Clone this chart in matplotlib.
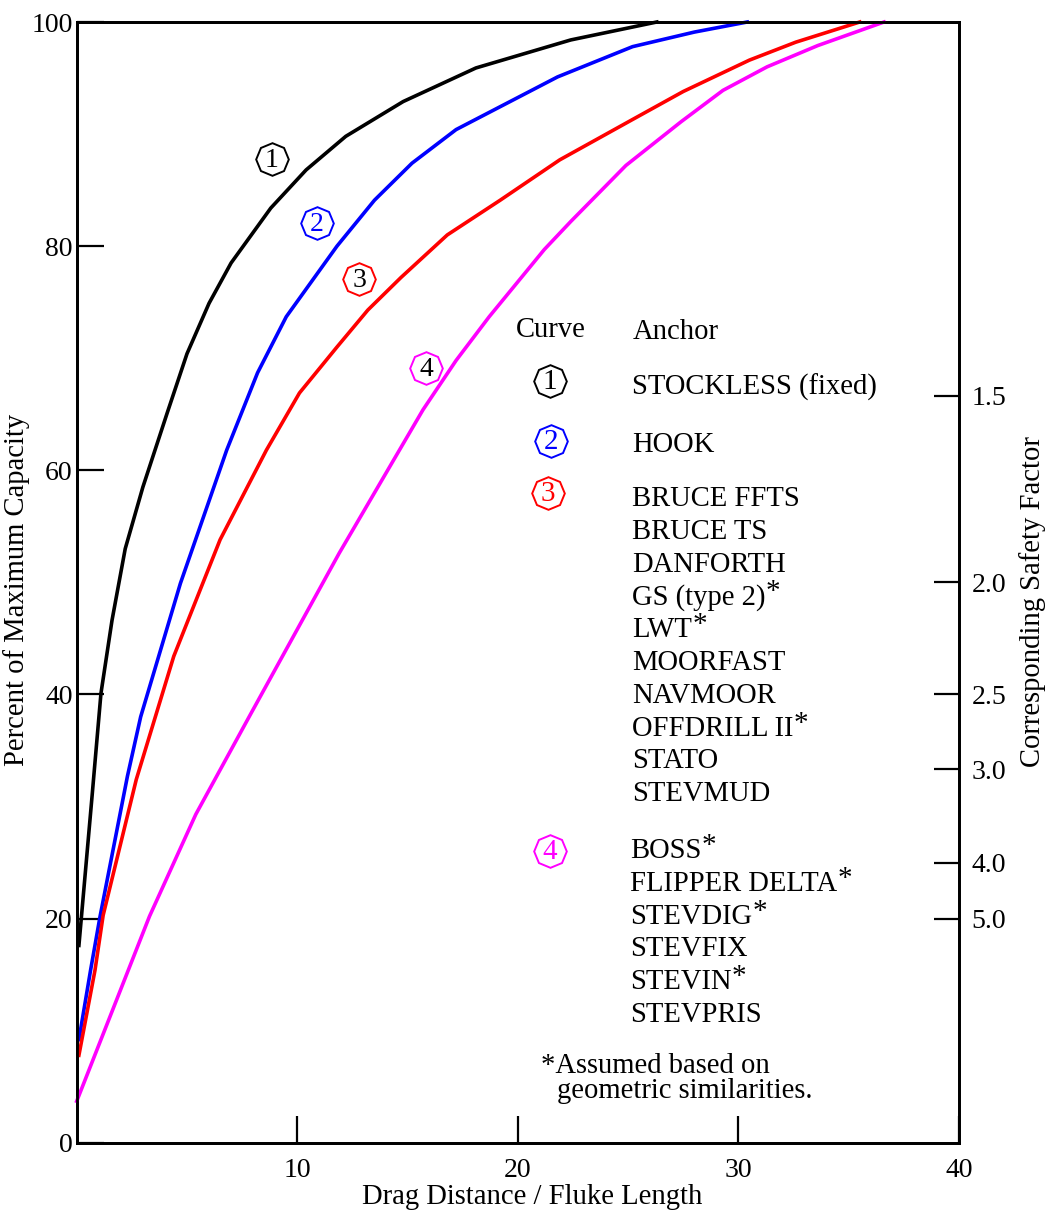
import matplotlib
matplotlib.use("Agg")
import matplotlib.pyplot as plt

plt.rcParams['font.family'] = ['Liberation Serif', 'DejaVu Serif']

# ---- data ----
x1 = [0.1, 0.7, 1.1, 1.6, 2.2, 3.0, 4.1, 5.0, 6.0, 7.0, 8.8, 10.4, 12.2, 14.8, 18.1, 22.4, 26.3]
y1 = [17.6, 31.0, 40.1, 46.6, 53.0, 58.5, 65.1, 70.4, 74.9, 78.5, 83.4, 86.8, 89.8, 92.9, 95.9, 98.4, 100]

x2 = [0.1, 0.63, 1.06, 2.3, 2.9, 4.7, 6.8, 8.2, 9.5, 11.8, 13.5, 15.2, 17.2, 21.8, 25.2, 28.0, 30.4]
y2 = [9.2, 15.4, 20.2, 32.7, 38.0, 49.9, 61.8, 68.7, 73.7, 80.0, 84.1, 87.4, 90.4, 95.1, 97.8, 99.1, 100]

x3 = [0.1, 0.83, 1.2, 2.7, 4.4, 6.5, 8.6, 10.1, 11.8, 13.2, 14.7, 16.8, 19.2, 21.9, 25.2, 27.5, 30.5, 32.6, 35.5]
y3 = [7.8, 15.4, 20.3, 32.4, 43.4, 53.8, 61.8, 66.9, 71.0, 74.3, 77.2, 81.0, 84.1, 87.7, 91.3, 93.8, 96.6, 98.2, 100]

x4 = [0.0, 3.3, 5.4, 7.9, 11.9, 15.7, 17.2, 18.7, 21.2, 22.4, 24.9, 27.4, 29.3, 31.3, 33.6, 36.6]
y4 = [3.7, 20.2, 29.3, 38.3, 52.6, 65.4, 69.8, 73.7, 79.7, 82.2, 87.2, 91.1, 93.9, 96.0, 97.9, 100]

curve_ids = ['1', '2', '3', '4']
curve_colors = ['black', '#0000ff', '#ff0000', '#ff00ff']

x_ticks = [10, 20, 30, 40]
y_ticks = [0, 20, 40, 60, 80, 100]
safety_factors = [1.5, 2.0, 2.5, 3.0, 4.0, 5.0]

# (name, assumed-by-similarity flag)
anchors_1 = [('STOCKLESS (fixed)', False)]
anchors_2 = [('HOOK', False)]
anchors_3 = [('BRUCE FFTS', False), ('BRUCE TS', False), ('DANFORTH', False), ('GS (type 2)', True),
             ('LWT', True), ('MOORFAST', False), ('NAVMOOR', False), ('OFFDRILL II', True),
             ('STATO', False), ('STEVMUD', False)]
anchors_4 = [('BOSS', True), ('FLIPPER DELTA', True), ('STEVDIG', True), ('STEVFIX', False),
             ('STEVIN', True), ('STEVPRIS', False)]

W, H = 1046, 1220
fig = plt.figure(figsize=(W / 100, H / 100), dpi=100)
L, R, T, B = 76.7, 959.0, 22.0, 1142.7
ax = fig.add_axes([L / W, 1 - B / H, (R - L) / W, (B - T) / H])
renderer = fig.canvas.get_renderer()

FS = 20.6
TFS = 20

def fx(px):
    return px / W

def fy(py):
    return 1 - py / H

for xs, ys, c in zip([x1, x2, x3, x4], [y1, y2, y3, y4], curve_colors):
    ax.plot(xs, ys, color=c, lw=2.6, solid_joinstyle='round', clip_on=False, zorder=3)

ax.set_xlim(0, 40)
ax.set_ylim(0, 100)
ax.set_xticks(x_ticks)
ax.set_xticklabels([str(v) for v in x_ticks])
ax.set_yticks(y_ticks)
ax.set_yticklabels([str(v) for v in y_ticks])
ax.tick_params(axis='both', direction='in', length=19.5, width=1.6, labelsize=TFS, colors='black')
ax.tick_params(axis='x', pad=11)
ax.tick_params(axis='y', pad=3)
for s in ax.spines.values():
    s.set_linewidth(2.0)

ax2 = ax.twinx()
ax2.set_ylim(0, 100)
ax2.set_yticks([100.0 / sf for sf in safety_factors])
ax2.set_yticklabels([f"{sf:.1f}" for sf in safety_factors])
ax2.tick_params(axis='y', direction='in', length=18, width=1.6, labelsize=TFS, pad=9)
for s in ax2.spines.values():
    s.set_linewidth(2.0)

# axis labels
fig.text(fx(532), fy(1197), 'Drag Distance / Fluke Length', fontsize=FS, ha='center', va='center')
fig.text(fx(17), fy(590), 'Percent of Maximum Capacity', fontsize=FS, ha='center', va='center', rotation=90)
fig.text(fx(1033), fy(602), 'Corresponding Safety Factor', fontsize=FS, ha='center', va='center', rotation=90)

# octagon markers with numbers
def badge(px, py, num, col, numcol, fs):
    fig.lines.append(plt.Line2D([fx(px)], [fy(py)], transform=fig.transFigure, marker=(8, 0, 0),
                                markersize=23.5, markerfacecolor='white', markeredgecolor=col,
                                markeredgewidth=1.4, linestyle='none', zorder=5))
    fig.text(fx(px), fy(py) - 0.001, num, fontsize=fs, color=numcol, ha='center', va='center', zorder=6)

on_curve = [(272, 159), (317, 223), (359, 279), (426, 368)]
on_curve_numcol = ['black', '#0000ff', 'black', 'black']
for (px, py), n, c, nc in zip(on_curve, curve_ids, curve_colors, on_curve_numcol):
    badge(px, py, n, c, nc, 20)

legend_pos = [(550, 381), (551, 441), (548, 493), (550, 851)]
for (px, py), n, c in zip(legend_pos, curve_ids, curve_colors):
    badge(px, py, n, c, c, 21)

def name_text(px, py, name, star):
    t = fig.text(fx(px), fy(py), name, fontsize=FS, ha='left', va='baseline')
    if star:
        bb = t.get_window_extent(renderer)
        fig.text((bb.x1 + 0.5) / W, fy(py - 5), '*', fontsize=21, ha='left', va='baseline')

# legend headers
fig.text(fx(516), fy(337), 'Curve', fontsize=FS, ha='left', va='baseline')
fig.text(fx(633), fy(339), 'Anchor', fontsize=FS, ha='left', va='baseline')

name_text(632, 395, *anchors_1[0])
name_text(632, 452, *anchors_2[0])
for i, (name, star) in enumerate(anchors_3):
    name_text(632, 506 + 32.8 * i, name, star)
for i, (name, star) in enumerate(anchors_4):
    name_text(630, 858 + 32.8 * i, name, star)

fig.text(fx(541), fy(1073), '*Assumed based on', fontsize=FS, ha='left', va='baseline')
fig.text(fx(557), fy(1098), 'geometric similarities.', fontsize=FS, ha='left', va='baseline')

fig.savefig('out.png', dpi=100)
